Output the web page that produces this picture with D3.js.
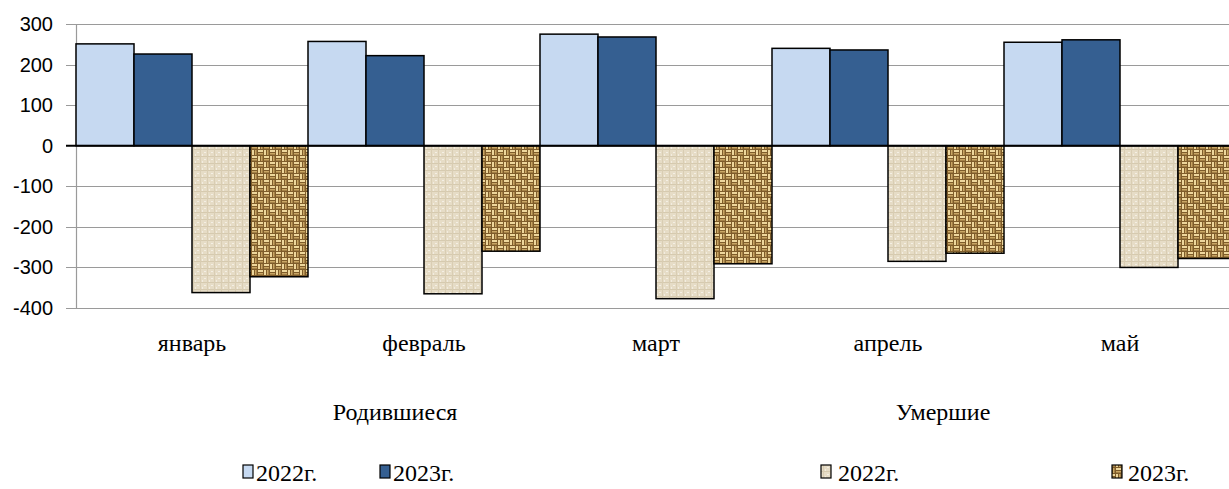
<!DOCTYPE html>
<html><head><meta charset="utf-8">
<script src="https://cdn.jsdelivr.net/npm/d3@7"></script>
<style>body{margin:0;background:#fff;}svg{display:block;}</style>
</head><body>
<svg id="c" width="1229" height="489"></svg>
<script>
const categories = ["январь","февраль","март","апрель","май"];
const births2022 = [251, 257, 275, 240, 255];
const births2023 = [226, 222, 268, 236, 261];
const deaths2022 = [-362, -365, -377, -285, -300];
const deaths2023 = [-323, -260, -291, -265, -278];
const yTicks = [300,200,100,0,-100,-200,-300,-400];
const seriesNames = ["2022г.","2023г.","2022г.","2023г."];
const groupLabels = ["Родившиеся","Умершие"];

const svg = d3.select("#c");
const defs = svg.append("defs");
// linen pattern
const p1 = defs.append("pattern").attr("id","linen").attr("patternUnits","userSpaceOnUse").attr("width",7).attr("height",7);
p1.append("rect").attr("width",7).attr("height",7).attr("fill","#e6dcc6");
p1.append("rect").attr("x",0).attr("y",2).attr("width",7).attr("height",1).attr("fill","#d6caaf");
p1.append("rect").attr("x",4).attr("y",0).attr("width",1).attr("height",7).attr("fill","#d9cdb3");
p1.append("rect").attr("x",1).attr("y",5).attr("width",2).attr("height",1).attr("fill","#f4efe4");
p1.append("rect").attr("x",6).attr("y",0).attr("width",1).attr("height",2).attr("fill","#f2ece0");
// basket weave pattern
const p2 = defs.append("pattern").attr("id","weave").attr("patternUnits","userSpaceOnUse").attr("width",12).attr("height",12);
p2.append("rect").attr("width",12).attr("height",12).attr("fill","#7e5c2a");
const L = "#eed79c", M = "#c9a664";
[[0,0,5,2,L],[0,3,5,1.5,M],[6,0,2,5,L],[9,0,1.5,5,M],[0,6,2,5,L],[3,6,1.5,5,M],[6,6,5,2,L],[6,9,5,1.5,M]]
  .forEach(r=>p2.append("rect").attr("x",r[0]).attr("y",r[1]).attr("width",r[2]).attr("height",r[3]).attr("fill",r[4]));

const fills = ["#c6d9f1","#355f91","url(#linen)","url(#weave)"];
const series = [births2022, births2023, deaths2022, deaths2023];

const x0 = 76, bandW = 232;
const x = d3.scaleBand().domain(categories).range([x0, x0 + bandW*categories.length]).paddingInner(0).paddingOuter(0);
const xs = d3.scaleBand().domain([0,1,2,3]).range([0, x.bandwidth()]).padding(0);
const y = d3.scaleLinear().domain([-400,300]).range([308,24]);

// gridlines
svg.append("g").selectAll("line").data(yTicks.filter(d=>d!==0)).join("line")
  .attr("x1",66).attr("x2",1229).attr("y1",d=>Math.round(y(d))+0.5).attr("y2",d=>Math.round(y(d))+0.5)
  .attr("stroke","#9a9a9a").attr("stroke-width",1.2);
// y axis line
svg.append("line").attr("x1",x0+0.5).attr("x2",x0+0.5).attr("y1",y(300)).attr("y2",y(-400)).attr("stroke","#9a9a9a").attr("stroke-width",1.2);
// y labels
svg.append("g").selectAll("text").data(yTicks).join("text")
  .attr("x",53).attr("y",d=>y(d)+7).attr("text-anchor","end")
  .attr("font-family","'Liberation Sans', Arial, sans-serif").attr("font-size",20).attr("fill","#000")
  .text(d=>d);

// bars
series.forEach((vals,i)=>{
  svg.append("g").selectAll("rect").data(vals.map((v,j)=>({v,c:categories[j]}))).join("rect")
    .attr("x",d=>x(d.c)+xs(i))
    .attr("width",xs.bandwidth())
    .attr("y",d=>y(Math.max(0,d.v)))
    .attr("height",d=>Math.abs(y(d.v)-y(0)))
    .attr("fill",fills[i]).attr("stroke","#000").attr("stroke-width",1.5);
});
// zero line
svg.append("line").attr("x1",66).attr("x2",1229).attr("y1",y(0)).attr("y2",y(0)).attr("stroke","#000").attr("stroke-width",2);

const serif = "'Liberation Serif','Times New Roman',serif";
// category labels
svg.append("g").selectAll("text").data(categories).join("text")
  .attr("x",d=>x(d)+x.bandwidth()/2).attr("y",351).attr("text-anchor","middle")
  .attr("font-family",serif).attr("font-size",24).text(d=>d);

// group labels
svg.append("g").selectAll("text").data(groupLabels).join("text")
  .attr("x",(d,i)=>[395,943][i]).attr("y",420).attr("text-anchor","middle")
  .attr("font-family",serif).attr("font-size",24).text(d=>d);

// legend
const legX = [243, 380, 821, 1112];
const legTX = [256, 393, 838, 1128];
const leg = svg.append("g");
seriesNames.forEach((n,i)=>{
  leg.append("rect").attr("x",legX[i]).attr("y",465).attr("width",10).attr("height",13)
    .attr("fill",fills[i]).attr("stroke","#000").attr("stroke-width",1.2);
  leg.append("text").attr("x",legTX[i]).attr("y",481)
    .attr("font-family",serif).attr("font-size",24).text(n);
});
</script>
</body></html>
